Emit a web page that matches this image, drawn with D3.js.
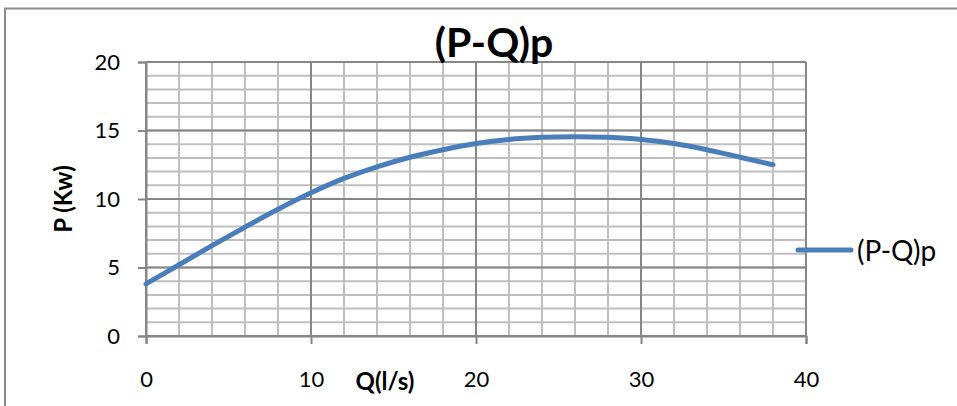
<!DOCTYPE html>
<html><head><meta charset="utf-8">
<script src="https://cdn.jsdelivr.net/npm/d3@7"></script>
<style>body{margin:0;background:#fff}svg{display:block}text{font-family:Lato,"Open Sans",sans-serif}</style>
</head><body><svg id="c" width="957" height="406"></svg>
<script>
const qValues = [0,2,4,6,8,10,12,14,16,18,20,22,24,26,28,30,32,34,36,38];
const pValues = [3.8,5.2,6.6,7.95,9.25,10.45,11.5,12.35,13.05,13.6,14.05,14.35,14.5,14.55,14.5,14.35,14.05,13.6,13.05,12.5];
const xTicks = [0,10,20,30,40];
const yTicks = [0,5,10,15,20];
const seriesName = "(P-Q)p";
const titleText = "(P-Q)p";
const xLabel = "Q(l/s)";
const yLabel = "P (Kw)";

const svg = d3.select("#c");
const x = d3.scaleLinear().domain([0,40]).range([146,806]);
const y = d3.scaleLinear().domain([0,20]).range([336,62]);

// chart border
svg.append("rect").attr("x",5).attr("y",8.5).attr("width",1000).attr("height",500)
  .attr("fill","none").attr("stroke","#8c8c8c").attr("stroke-width",2);

// minor grid
const g = svg.append("g");
g.selectAll(".mx").data(d3.range(0,41,2)).enter().append("line")
  .attr("x1",d=>x(d)).attr("x2",d=>x(d)).attr("y1",y(0)).attr("y2",y(20))
  .attr("stroke","#bfbfbf").attr("stroke-width",2);
g.selectAll(".my").data(d3.range(0,21,1)).enter().append("line")
  .attr("x1",x(0)).attr("x2",x(40)).attr("y1",d=>y(d)).attr("y2",d=>y(d))
  .attr("stroke","#bfbfbf").attr("stroke-width",2);
// major grid
g.selectAll(".Mx").data(xTicks).enter().append("line")
  .attr("x1",d=>x(d)).attr("x2",d=>x(d)).attr("y1",y(0)).attr("y2",y(20))
  .attr("stroke","#868686").attr("stroke-width",2);
g.selectAll(".My").data(yTicks).enter().append("line")
  .attr("x1",x(0)).attr("x2",x(40)).attr("y1",d=>y(d)).attr("y2",d=>y(d))
  .attr("stroke","#868686").attr("stroke-width",2);

// axes
const xa = svg.append("g").attr("transform",`translate(0,${y(0)})`)
  .call(d3.axisBottom(x).tickValues(xTicks).tickSize(8).tickPadding(27));
const ya = svg.append("g").attr("transform",`translate(${x(0)},0)`)
  .call(d3.axisLeft(y).tickValues(yTicks).tickSize(8).tickPadding(18));
[xa,ya].forEach(a=>{
  a.select(".domain").attr("stroke","#868686").attr("stroke-width",2);
  a.selectAll(".tick line").attr("stroke","#868686").attr("stroke-width",2);
  a.selectAll("text").attr("font-size",22).attr("fill","#000").style("font-family","Lato,'Open Sans',sans-serif");
});

// line
const data = qValues.map((q,i)=>({q,p:pValues[i]}));
svg.append("path").datum(data)
  .attr("d",d3.line().x(d=>x(d.q)).y(d=>y(d.p)).curve(d3.curveCatmullRom.alpha(0.5)))
  .attr("fill","none").attr("stroke","#4a7ebb").attr("stroke-width",5).attr("stroke-linecap","round");

// title
svg.append("text").attr("x",494).attr("y",57).attr("text-anchor","middle")
  .attr("font-size",41).attr("font-weight","bold").text(titleText);
// axis labels
svg.append("text").attr("x",385).attr("y",390).attr("text-anchor","middle")
  .attr("font-size",24).attr("font-weight","bold").text(xLabel);
svg.append("text").attr("transform","translate(72,199) rotate(-90)").attr("text-anchor","middle")
  .attr("font-size",24).attr("font-weight","bold").text(yLabel);

// legend
svg.append("line").attr("x1",798).attr("x2",851).attr("y1",250).attr("y2",250)
  .attr("stroke","#4a7ebb").attr("stroke-width",5).attr("stroke-linecap","round");
svg.append("text").attr("x",857).attr("y",261).attr("font-size",28).text(seriesName);
</script></body></html>
